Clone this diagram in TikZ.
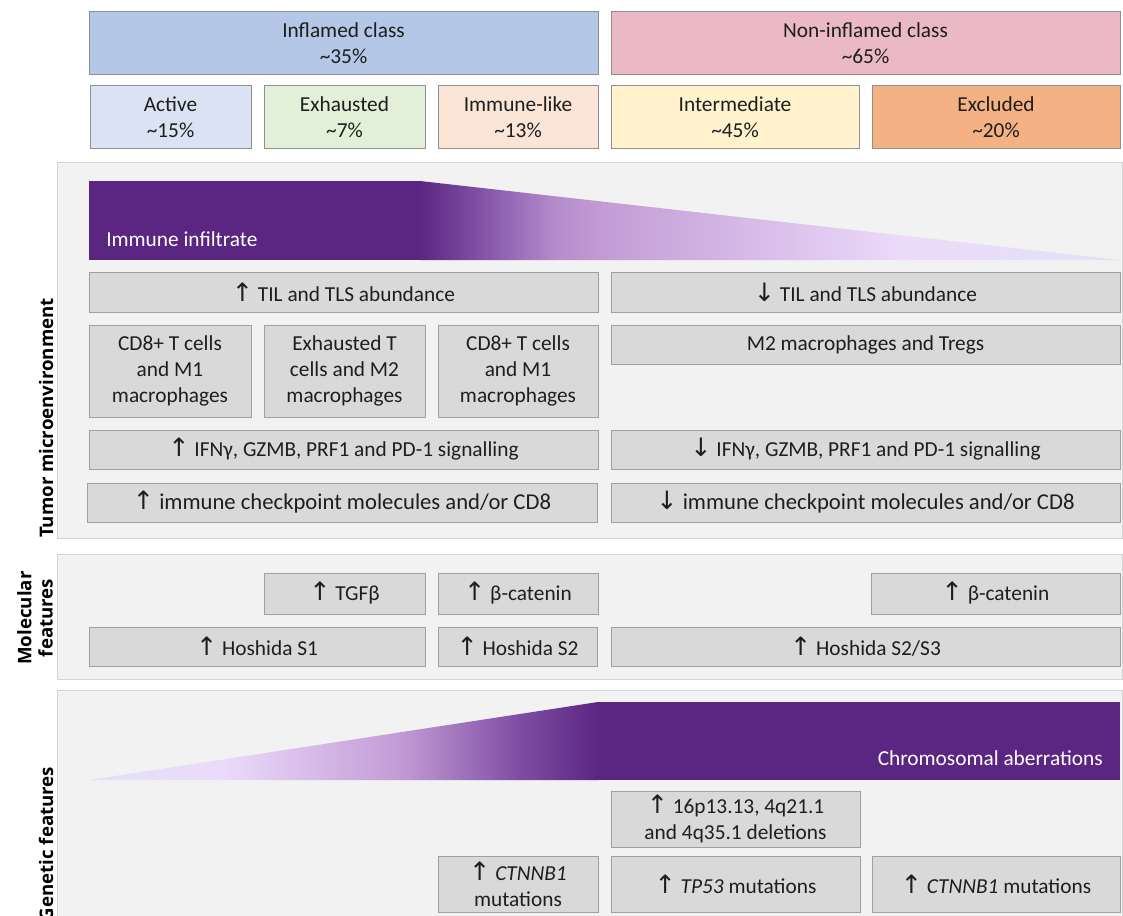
\documentclass[tikz,border=0pt]{standalone}
\usepackage{fontspec}
\setmainfont{Carlito}
\newfontfamily\labelfont{Open Sans}
\newfontfamily\arrowfont{DejaVu Sans}
\newcommand{\upar}{{\arrowfont\fontsize{19}{19.5}\selectfont↑}}
\newcommand{\dnar}{{\arrowfont\fontsize{19}{19.5}\selectfont↓}}
\definecolor{textgray}{HTML}{1E1E1E}
\definecolor{classline}{HTML}{8F8F8F}
\definecolor{inflblue}{HTML}{B4C7E7}
\definecolor{noninflpink}{HTML}{EAB9C5}
\definecolor{activeblue}{HTML}{DAE3F3}
\definecolor{exhgreen}{HTML}{E2F0D9}
\definecolor{immpeach}{HTML}{FBE5D6}
\definecolor{intyellow}{HTML}{FFF2CC}
\definecolor{exclorange}{HTML}{F4B183}
\definecolor{panelfill}{HTML}{F2F2F2}
\definecolor{panelline}{HTML}{D4D4D4}
\definecolor{boxfill}{HTML}{D9D9D9}
\definecolor{boxline}{HTML}{A0A0A0}
\definecolor{infpurple}{HTML}{5B2682}
\definecolor{gradb}{HTML}{7E4DA3}
\definecolor{gradc}{HTML}{B38BCB}
\definecolor{gradd}{HTML}{C29BD5}
\definecolor{grade}{HTML}{EBDAFA}
\definecolor{gradf}{HTML}{E2E2F5}
\tikzstyle{every node}=[font=\fontsize{16}{19.5}\selectfont,text=textgray,align=center,inner sep=0pt]
\tikzstyle{classbox}=[draw=classline,line width=0.75pt]
\tikzstyle{graybox}=[draw=boxline,fill=boxfill,line width=0.75pt]
\tikzstyle{bigtext}=[font=\fontsize{17}{21}\selectfont]
\tikzstyle{panel}=[draw=panelline,fill=panelfill,line width=0.75pt]
\tikzstyle{sidelabel}=[font=\labelfont\bfseries\fontsize{14}{16}\selectfont,text=black,rotate=90]
\tikzstyle{gradlabel}=[text=white]
\tikzset{px/.style 2 args={minimum width=#1*0.75pt,minimum height=#2*0.75pt}}

\begin{document}
\begin{tikzpicture}[x=0.75pt,y=-0.75pt]
	\useasboundingbox (0,0) rectangle (1123,916);
	% classes
	\node[classbox,fill=inflblue,px={509}{63}] (inflamed) at (343.5,43.5) {Inflamed class\\\textasciitilde35\%};
	\node[classbox,fill=noninflpink,px={509}{63}] (noninflamed) at (865.5,43.5) {Non-inflamed class\\\textasciitilde65\%};
	\node[classbox,fill=activeblue,px={161}{63}] (active) at (170.5,117.5) {Active\\\textasciitilde15\%};
	\node[classbox,fill=exhgreen,px={161}{63}] (exhausted) at (344.5,117.5) {Exhausted\\\textasciitilde7\%};
	\node[classbox,fill=immpeach,px={160}{63}] (immunelike) at (518,117.5) {Immune-like\\\textasciitilde13\%};
	\node[classbox,fill=intyellow,px={248}{63}] (intermediate) at (735,117.5) {Intermediate\\\textasciitilde45\%};
	\node[classbox,fill=exclorange,px={248}{63}] (excluded) at (996,117.5) {Excluded\\\textasciitilde20\%};

	% tumor microenvironment
	\draw[panel] (57,163) rectangle (1122,538);
	\begin{scope}
		\clip (89,181) -- (420,181) -- (1120,260) -- (89,260) -- cycle;
		\fill[infpurple] (89,181) rectangle (420.5,260);
		\shade[left color=infpurple,right color=gradb] (420,181) rectangle (474.5,260);
		\shade[left color=gradb,right color=gradc] (474,181) rectangle (553.5,260);
		\shade[left color=gradc,right color=gradd] (553,181) rectangle (600.5,260);
		\shade[left color=gradd,right color=grade] (600,181) rectangle (900.5,260);
		\shade[left color=grade,right color=gradf] (900,181) rectangle (1120,260);
	\end{scope}
	\node[gradlabel,anchor=west] (infiltrate) at (106,239) {Immune infiltrate};
	\node[graybox,px={509}{40}] (tilup) at (343.5,292) {\upar{} TIL and TLS abundance};
	\node[graybox,px={509}{40}] (tildown) at (865.5,292) {\dnar{} TIL and TLS abundance};
	\node[graybox,px={162}{92}] (cellsactive) at (170,371) {CD8+ T cells\\and M1\\macrophages};
	\node[graybox,px={161}{92}] (cellsexh) at (344.5,371) {Exhausted T\\cells and M2\\macrophages};
	\node[graybox,px={160}{92}] (cellsimm) at (518,371) {CD8+ T cells\\and M1\\macrophages};
	\node[graybox,px={509}{39}] (mtwo) at (865.5,344.5) {M2 macrophages and Tregs};
	\node[graybox,px={509}{39}] (ifnup) at (343.5,449.5) {\upar{} IFNγ, GZMB, PRF1 and PD-1 signalling};
	\node[graybox,px={509}{39}] (ifndown) at (865.5,449.5) {\dnar{} IFNγ, GZMB, PRF1 and PD-1 signalling};
	\node[graybox,bigtext,px={510}{39}] (checkup) at (342,502.5) {\upar{} immune checkpoint molecules and/or CD8};
	\node[graybox,bigtext,px={509}{39}] (checkdown) at (865.5,502.5) {\dnar{} immune checkpoint molecules and/or CD8};
	\node[sidelabel] (tmelabel) at (46,418) {Tumor microenvironment};

	% molecular features
	\draw[panel] (57,554) rectangle (1122,679);
	\node[graybox,px={161}{41}] (tgfb) at (344.5,593.5) {\upar{} TGFβ};
	\node[graybox,px={160}{41}] (bcatimm) at (518,593.5) {\upar{} β-catenin};
	\node[graybox,px={249}{41}] (bcatexcl) at (995.5,593.5) {\upar{} β-catenin};
	\node[graybox,px={336}{39}] (hoshone) at (257,646.5) {\upar{} Hoshida S1};
	\node[graybox,px={159}{39}] (hoshtwo) at (517.5,646.5) {\upar{} Hoshida S2};
	\node[graybox,px={509}{39}] (hoshthree) at (865.5,646.5) {\upar{} Hoshida S2/S3};
	\node[sidelabel] (mollabel) at (35,618) {Molecular\\features};

	% genetic features
	\draw[panel] (57,690) rectangle (1122,940);
	\begin{scope}
		\clip (89,780) -- (598,702) -- (1120,702) -- (1120,780) -- cycle;
		\shade[left color=gradf,right color=grade] (89,702) rectangle (225.5,780);
		\shade[left color=grade,right color=gradd] (225,702) rectangle (400.5,780);
		\shade[left color=gradd,right color=gradb] (400,702) rectangle (520.5,780);
		\shade[left color=gradb,right color=infpurple] (520,702) rectangle (598.5,780);
		\fill[infpurple] (598,702) rectangle (1120,780);
	\end{scope}
	\node[gradlabel,anchor=east] (chromo) at (1103,758) {Chromosomal aberrations};
	\node[graybox,px={249}{56}] (deletions) at (735.5,819) {\upar{} 16p13.13, 4q21.1\\and 4q35.1 deletions};
	\node[graybox,px={160}{56}] (ctnnbimm) at (518,884) {\upar{} \textit{CTNNB1}\\mutations};
	\node[graybox,px={249}{56}] (tpfs) at (735.5,884) {\upar{} \textit{TP53} mutations};
	\node[graybox,px={248}{56}] (ctnnbexcl) at (996,884) {\upar{} \textit{CTNNB1} mutations};
	\node[sidelabel] (genlabel) at (46,844) {Genetic features};
\end{tikzpicture}
\end{document}
